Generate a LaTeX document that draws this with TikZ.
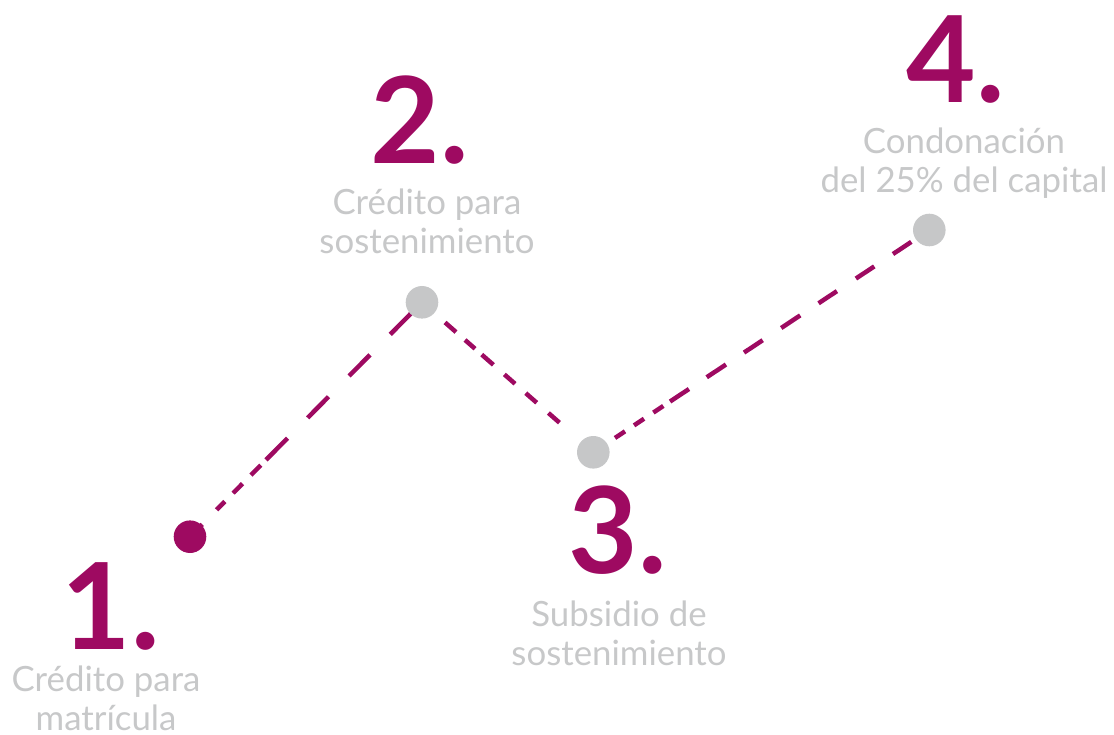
\documentclass[tikz,border=0pt]{standalone}
\usepackage{fontspec}
\setmainfont{Lato}
\usetikzlibrary{backgrounds}
\definecolor{brandmag}{RGB}{158,10,97}
\definecolor{dotgray}{RGB}{198,199,200}
\definecolor{txtgray}{RGB}{199,200,201}
\begin{document}
\begin{tikzpicture}[x=1pt,y=-1pt,
  dotm/.style={circle,fill=brandmag,minimum size=32.6pt,inner sep=0pt},
  dotg/.style={circle,fill=dotgray,minimum size=32.6pt,inner sep=0pt},
  num/.style={text=brandmag,font=\fontsize{120}{120}\selectfont\bfseries,inner sep=0pt,anchor=base},
  lbl/.style={text=txtgray,font=\fontsize{34.8}{39}\selectfont,align=center,inner sep=0pt,anchor=base},
  link/.style={draw=brandmag,line width=4.5pt}]
\useasboundingbox (0,0) rectangle (1114,735);
% dots
\node[dotm] (d1) at (190,536.7) {};
\node[dotg] (d2) at (422,302.3) {};
\node[dotg] (d3) at (593.3,452.3) {};
\node[dotg] (d4) at (929.3,230) {};
% numbers
\node[num] (n1) at (111,649) {1.};
\node[num] (n2) at (420,164) {2.};
\node[num] (n3) at (618,573) {3.};
\node[num] (n4) at (956,103) {4.};
% labels (base anchor = baseline of the last line)
\node[lbl] (t1) at (106,730) {Crédito para\\matrícula};
\node[lbl] (t2) at (427,254) {Crédito para\\sostenimiento};
\node[lbl] (t3) at (619,665) {Subsidio de\\sostenimiento};
\node[lbl] (t4) at (964,193) {Condonación\\del 25\% del capital};
% connectors
\begin{scope}[on background layer]
\draw[link,dash pattern=on 17.4pt off 20.4pt on 11.7pt off 11.8pt on 13.3pt off 12pt on 14.1pt off 7.3pt on 30.6pt off 28.6pt on 29.7pt off 29.3pt on 29.7pt off 28.7pt on 40pt off 10pt]
  (d1.center) -- (d2.center);
\draw[link,dash pattern=on 0pt off 30.6pt on 14.6pt off 12pt on 13.3pt off 8.9pt on 15.5pt off 14.6pt on 14.2pt off 14.2pt on 14.6pt off 15.5pt on 14.7pt off 40pt]
  (d2.center) -- (d3.center);
\draw[link,dash pattern=on 0pt off 26pt on 12pt off 10.8pt on 12pt off 11.2pt on 12pt off 8pt on 22.7pt off 21.3pt on 23.1pt off 21.6pt on 22.4pt off 22.2pt on 22.8pt off 22pt on 22pt off 22.8pt on 22pt off 22.4pt on 22pt off 40pt]
  (d3.center) -- (d4.center);
\end{scope}
\end{tikzpicture}
\end{document}
